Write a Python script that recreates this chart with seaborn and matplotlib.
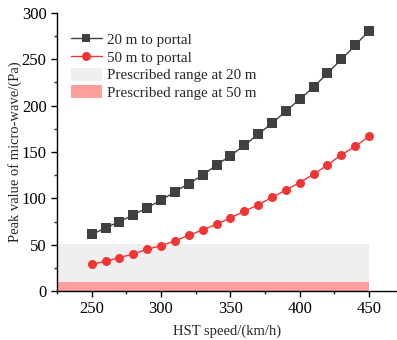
import numpy as np
import pandas as pd
import matplotlib
matplotlib.use("Agg")
import matplotlib.pyplot as plt
import seaborn as sns
from matplotlib.patches import Patch
from matplotlib.lines import Line2D
from matplotlib.ticker import MultipleLocator

# speeds (km/h) and peak micro-wave pressure
speed = [250, 260, 270, 280, 290, 300, 310, 320, 330, 340, 350,
         360, 370, 380, 390, 400, 410, 420, 430, 440, 450]
p20 = [61, 68, 75, 82, 90, 98, 107, 116, 125, 136, 146,
       157, 169, 181, 194, 207, 220, 235, 250, 265, 281]
p50 = [29, 32, 36, 40, 45, 49, 54, 60, 66, 72, 79,
       86, 93, 101, 109, 117, 126, 136, 147, 156, 167]
band_x = [225, 450]
band20 = 51
band50 = 9.5

sns.set_theme(style="ticks")
plt.rcParams['font.family'] = ['Liberation Serif', 'DejaVu Serif']

df = pd.DataFrame({"speed": speed * 2,
                   "p": p20 + p50,
                   "dist": ["20 m to portal"] * len(speed) + ["50 m to portal"] * len(speed)})

fig = plt.figure(figsize=(3.97, 3.40), dpi=100)
ax = fig.add_axes([0.1436, 0.144, 0.856, 0.818])

ax.fill_between(band_x, 0, band20, color="#efefef", lw=0, zorder=0)
ax.fill_between(band_x, 0, band50, color="#ff9e9e", lw=0, zorder=1)

c20 = "#404040"
c50 = "#f03535"
sns.lineplot(data=df, x="speed", y="p", hue="dist", style="dist",
             palette=[c20, c50], markers=["s", "o"], dashes=False,
             markersize=6.5, markeredgewidth=0, linewidth=1, ax=ax, legend=False)

ax.set_xlim(225, 470)
ax.set_ylim(0, 300)
ax.xaxis.set_major_locator(MultipleLocator(50))
ax.xaxis.set_minor_locator(MultipleLocator(25))
ax.yaxis.set_major_locator(MultipleLocator(50))
ax.yaxis.set_minor_locator(MultipleLocator(25))
ax.tick_params(which="major", length=4, width=1, labelsize=12, colors="black")
ax.tick_params(which="minor", length=2.5, width=1)
for s in ["top", "right"]:
    ax.spines[s].set_visible(False)
for s in ["left", "bottom"]:
    ax.spines[s].set_linewidth(1)
    ax.spines[s].set_color("black")

ax.set_xlabel("HST speed/(km/h)", fontsize=10.5, labelpad=5)
ax.set_ylabel("Peak value of micro-wave/(Pa)", fontsize=10.5, labelpad=0)

handles = [Line2D([], [], color=c20, marker="s", lw=1, markersize=6, markeredgewidth=0),
           Line2D([], [], color=c50, marker="o", lw=1, markersize=6.5, markeredgewidth=0),
           Patch(facecolor="#efefef", edgecolor="none"),
           Patch(facecolor="#ff9e9e", edgecolor="none")]
labels = ["20 m to portal", "50 m to portal",
          "Prescribed range at 20 m", "Prescribed range at 50 m"]
ax.legend(handles, labels, loc="upper left", bbox_to_anchor=(0.04, 0.93),
          frameon=False, fontsize=10.8, handlelength=2.1, handleheight=0.95,
          handletextpad=0.3, labelspacing=0.2, borderaxespad=0, borderpad=0)

fig.savefig("out.png", dpi=100)
